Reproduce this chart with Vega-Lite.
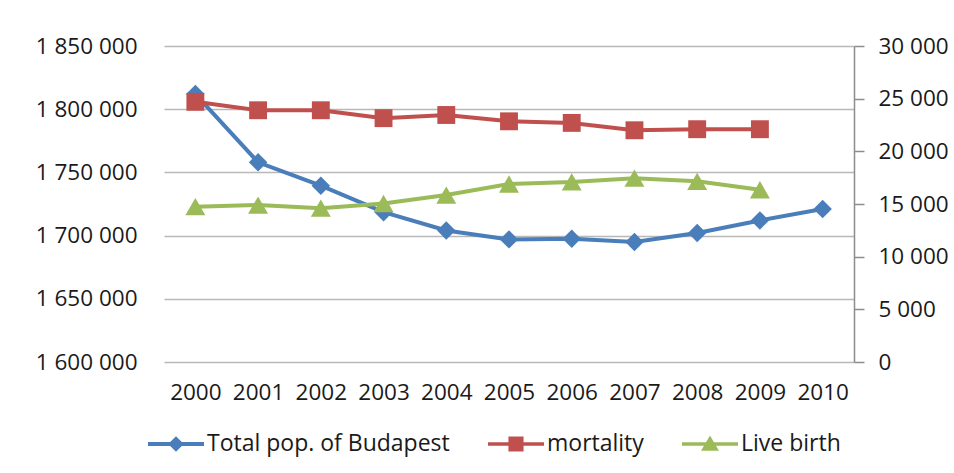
{
  "$schema": "https://vega.github.io/schema/vega-lite/v6.json",
  "width": 690,
  "height": 316,
  "autosize": {"type": "none"},
  "padding": {"left": 164, "top": 46, "right": 100, "bottom": 111},
  "background": "#ffffff",
  "config": {
    "locale": {"number": {"decimal": ".", "thousands": " ", "grouping": [3], "currency": ["", ""]}},
    "view": {"stroke": null},
    "font": "Open Sans",
    "axis": {"labelFont": "Open Sans", "labelFontSize": 22.5, "labelColor": "#1a1a1a", "title": null},
    "legend": {"labelFont": "Open Sans", "labelFontSize": 23, "labelColor": "#1a1a1a"}
  },
  "data": {
    "values": [
      {"year": "2000", "series": "Total pop. of Budapest", "value": 1812000},
      {"year": "2001", "series": "Total pop. of Budapest", "value": 1758000},
      {"year": "2002", "series": "Total pop. of Budapest", "value": 1739500},
      {"year": "2003", "series": "Total pop. of Budapest", "value": 1718500},
      {"year": "2004", "series": "Total pop. of Budapest", "value": 1704000},
      {"year": "2005", "series": "Total pop. of Budapest", "value": 1697000},
      {"year": "2006", "series": "Total pop. of Budapest", "value": 1697500},
      {"year": "2007", "series": "Total pop. of Budapest", "value": 1695000},
      {"year": "2008", "series": "Total pop. of Budapest", "value": 1702000},
      {"year": "2009", "series": "Total pop. of Budapest", "value": 1712000},
      {"year": "2010", "series": "Total pop. of Budapest", "value": 1721000},
      {"year": "2000", "series": "mortality", "value": 24700},
      {"year": "2001", "series": "mortality", "value": 23900},
      {"year": "2002", "series": "mortality", "value": 23900},
      {"year": "2003", "series": "mortality", "value": 23150},
      {"year": "2004", "series": "mortality", "value": 23450},
      {"year": "2005", "series": "mortality", "value": 22850},
      {"year": "2006", "series": "mortality", "value": 22700},
      {"year": "2007", "series": "mortality", "value": 22000},
      {"year": "2008", "series": "mortality", "value": 22100},
      {"year": "2009", "series": "mortality", "value": 22100},
      {"year": "2000", "series": "Live birth", "value": 14750},
      {"year": "2001", "series": "Live birth", "value": 14900},
      {"year": "2002", "series": "Live birth", "value": 14600},
      {"year": "2003", "series": "Live birth", "value": 15050},
      {"year": "2004", "series": "Live birth", "value": 15850},
      {"year": "2005", "series": "Live birth", "value": 16900},
      {"year": "2006", "series": "Live birth", "value": 17100},
      {"year": "2007", "series": "Live birth", "value": 17450},
      {"year": "2008", "series": "Live birth", "value": 17150},
      {"year": "2009", "series": "Live birth", "value": 16350}
    ]
  },
  "encoding": {
    "x": {
      "field": "year",
      "type": "ordinal",
      "scale": {"type": "point", "padding": 0.5},
      "axis": {"labelAngle": 0, "domain": false, "ticks": false, "grid": false, "labelPadding": 19}
    },
    "color": {
      "field": "series",
      "type": "nominal",
      "scale": {
        "domain": ["Total pop. of Budapest", "mortality", "Live birth"],
        "range": ["#4a7ebb", "#c0504d", "#9bbb59"]
      },
      "legend": {
        "title": null,
        "orient": "none",
        "direction": "horizontal",
        "legendX": -16,
        "legendY": 370,
        "columnPadding": 38,
        "labelOffset": 3,
        "labelLimit": 400,
        "symbolSize": 3136,
        "symbolStrokeWidth": 0,
        "encode": {
          "symbols": {
            "update": {
              "shape": {"signal": "datum.value === 'Total pop. of Budapest' ? 'M-1,-0.07H1V0.07H-1Z M0,-0.28L0.28,0L0,0.28L-0.28,0Z' : datum.value === 'mortality' ? 'M-1,-0.06H1V0.06H-1Z M-0.27,-0.27H0.27V0.27H-0.27Z' : 'M-1,-0.06H1V0.06H-1Z M0,-0.3L0.32,0.24L-0.32,0.24Z'"},
              "fill": {"signal": "scale('color', datum.value)"},
              "stroke": {"value": "transparent"},
              "opacity": {"value": 1},
              "fillOpacity": {"value": 1}
            }
          }
        }
      }
    }
  },
  "layer": [
    {
      "transform": [{"filter": "datum.series === 'Total pop. of Budapest'"}],
      "encoding": {
        "y": {
          "field": "value",
          "type": "quantitative",
          "scale": {"domain": [1600000, 1850000], "zero": false, "nice": false},
          "axis": {
            "orient": "left",
            "domain": false,
            "ticks": false,
            "labelPadding": 27,
            "values": [1600000, 1650000, 1700000, 1750000, 1800000, 1850000],
            "format": ",d",
            "grid": true,
            "gridColor": "#b8b8b8",
            "gridWidth": 1.5
          }
        }
      },
      "layer": [
        {"mark": {"type": "line", "strokeWidth": 4}},
        {"mark": {"type": "point", "shape": "diamond", "filled": true, "opacity": 1, "size": 340}}
      ]
    },
    {
      "transform": [{"filter": "datum.series !== 'Total pop. of Budapest'"}],
      "encoding": {
        "y": {
          "field": "value",
          "type": "quantitative",
          "scale": {"domain": [0, 30000], "nice": false},
          "axis": {
            "orient": "right",
            "domain": true,
            "domainColor": "#8c8c8c",
            "domainWidth": 1.5,
            "ticks": true,
            "tickSize": 10,
            "tickColor": "#8c8c8c",
            "tickWidth": 1.5,
            "labelPadding": 14,
            "values": [0, 5000, 10000, 15000, 20000, 25000, 30000],
            "format": ",d",
            "grid": false
          }
        }
      },
      "layer": [
        {"mark": {"type": "line", "strokeWidth": 4}},
        {"transform": [{"filter": "datum.series === 'mortality'"}], "mark": {"type": "point", "shape": "square", "filled": true, "opacity": 1, "size": 320}},
        {"transform": [{"filter": "datum.series === 'Live birth'"}], "mark": {"type": "point", "shape": "triangle-up", "filled": true, "opacity": 1, "size": 400}}
      ]
    }
  ],
  "resolve": {"scale": {"y": "independent"}}
}
